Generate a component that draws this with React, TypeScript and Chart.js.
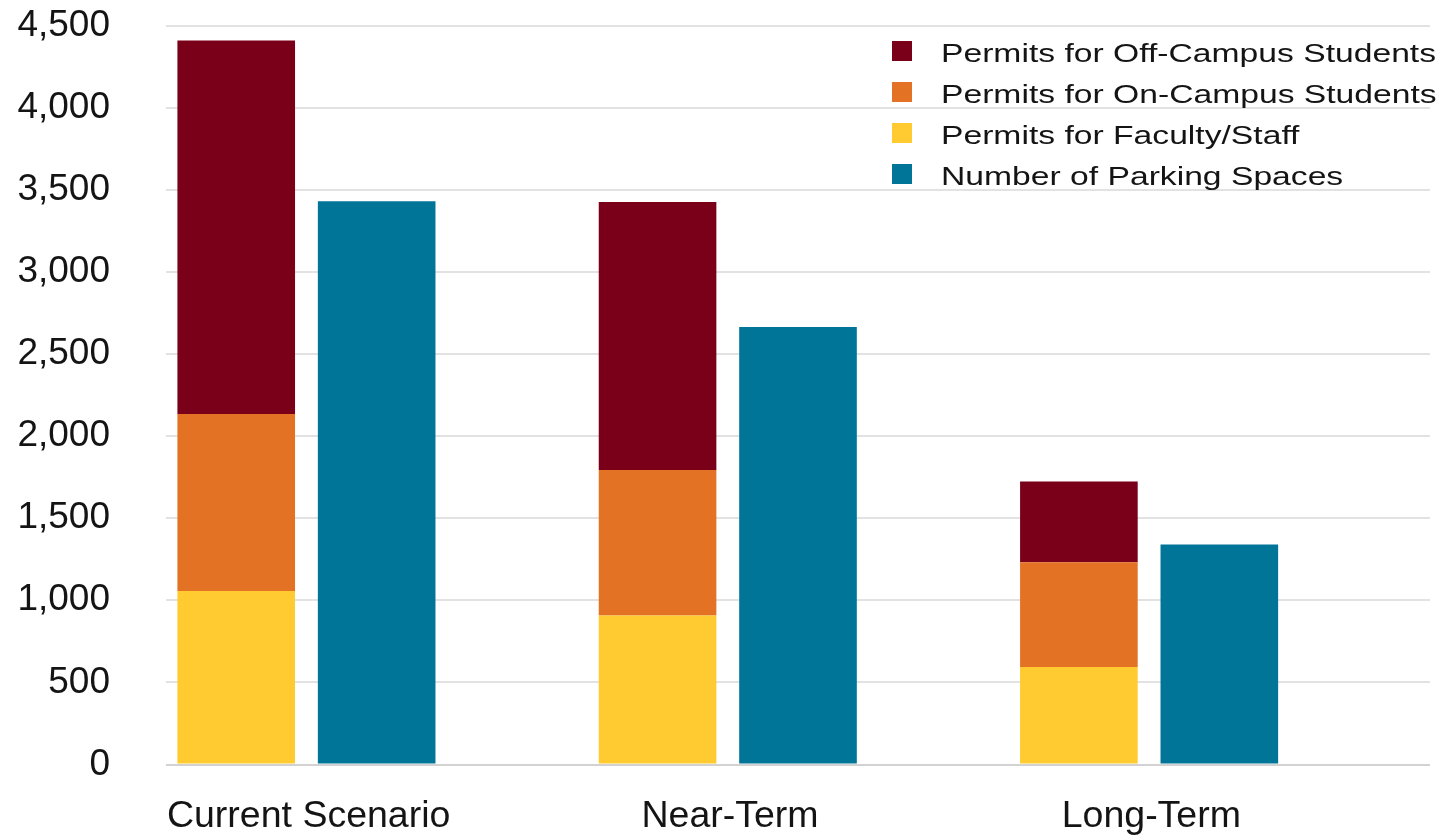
import React, { useEffect, useRef } from "react";
import { Chart, registerables } from "chart.js";

Chart.register(...registerables);

// Scenario categories along the x axis
const scenarios = ["Current Scenario", "Near-Term", "Long-Term"];

// Parking permits issued, stacked per scenario
const facultyStaffPermits = [1056, 908, 594];
const onCampusPermits = [1078, 885, 638];
const offCampusPermits = [2274, 1632, 492];

// Parking supply per scenario
const parkingSpaces = [3430, 2664, 1340];

// Empty third slot that keeps the pair of bars to the left of each band
const spacerSlot = [0, 0, 0];

const yTicks = [0, 500, 1000, 1500, 2000, 2500, 3000, 3500, 4000, 4500];

const FONT = '"Liberation Sans", Arial, Helvetica, sans-serif';
const TEXT_COLOR = "#141414";

const COLORS = {
  offCampus: "#7A0019",
  onCampus: "#E37225",
  faculty: "#FFCB31",
  parking: "#007598",
};

// Legend drawn inside the plot, top-right, in this dataset order
const legendOrder = [2, 1, 0, 3];

const insideLegend = {
  id: "insideLegend",
  afterDatasetsDraw(chart: any) {
    const { ctx } = chart;
    const x0 = 892;
    const y0 = 51;
    const rowGap = 41;
    const box = 20;
    ctx.save();
    legendOrder.forEach((dsIndex, i) => {
      const ds = chart.data.datasets[dsIndex];
      const cy = y0 + i * rowGap;
      ctx.fillStyle = ds.backgroundColor;
      ctx.fillRect(x0, cy - box / 2, box, box);
      ctx.save();
      ctx.translate(x0 + 49, cy + 10.5);
      ctx.scale(1.27, 1);
      ctx.font = `26.5px ${FONT}`;
      ctx.fillStyle = TEXT_COLOR;
      ctx.textAlign = "left";
      ctx.textBaseline = "alphabetic";
      ctx.fillText(ds.label, 0, 0);
      ctx.restore();
    });
    ctx.restore();
  },
};

export default function App() {
  const canvasRef = useRef<HTMLCanvasElement | null>(null);

  useEffect(() => {
    const canvas = canvasRef.current;
    if (!canvas) return;

    const barOpts = {
      categoryPercentage: 1,
      barPercentage: 0.8375,
      borderWidth: 0,
    };

    const chart = new Chart(canvas, {
      type: "bar",
      data: {
        labels: scenarios,
        datasets: [
          {
            label: "Permits for Faculty/Staff",
            data: facultyStaffPermits,
            backgroundColor: COLORS.faculty,
            stack: "permits",
            ...barOpts,
          },
          {
            label: "Permits for On-Campus Students",
            data: onCampusPermits,
            backgroundColor: COLORS.onCampus,
            stack: "permits",
            ...barOpts,
          },
          {
            label: "Permits for Off-Campus Students",
            data: offCampusPermits,
            backgroundColor: COLORS.offCampus,
            stack: "permits",
            ...barOpts,
          },
          {
            label: "Number of Parking Spaces",
            data: parkingSpaces,
            backgroundColor: COLORS.parking,
            stack: "spaces",
            ...barOpts,
          },
          {
            label: "spacer",
            data: spacerSlot,
            backgroundColor: "rgba(0,0,0,0)",
            stack: "spacer",
            ...barOpts,
          },
        ],
      },
      options: {
        responsive: false,
        animation: false,
        events: [],
        layout: {
          padding: { top: 25.5, right: 10, left: 0, bottom: 0 },
        },
        plugins: {
          legend: { display: false },
          tooltip: { enabled: false },
        },
        scales: {
          x: {
            stacked: true,
            offset: true,
            grid: { display: false, drawTicks: false },
            border: { display: false },
            ticks: {
              font: { family: FONT, size: 37.5 },
              color: TEXT_COLOR,
              padding: 30,
              labelOffset: -68,
              maxRotation: 0,
              autoSkip: false,
            },
            afterFit(scale: any) {
              scale.height = 72.5;
            },
          },
          y: {
            stacked: true,
            min: 0,
            max: 4500,
            afterBuildTicks(scale: any) {
              scale.ticks = yTicks.map((v) => ({ value: v }));
            },
            grid: {
              color: (c: any) => (c.tick && c.tick.value === 0 ? "#d2d2d2" : "#e2e2e2"),
              lineWidth: 2,
              drawTicks: false,
            },
            border: { display: false },
            ticks: {
              font: { family: FONT, size: 37 },
              color: TEXT_COLOR,
              padding: 56,
              callback: (v: any) => Number(v).toLocaleString("en-US"),
            },
            afterFit(scale: any) {
              scale.width = 166;
              // the wide label gap should not push the plot area down
              scale.paddingTop = 22;
              scale.paddingBottom = 22;
            },
          },
        },
      },
      plugins: [insideLegend],
    });

    return () => chart.destroy();
  }, []);

  return (
    <div style={{ position: "fixed", left: 0, top: 0, width: 1440, height: 837, background: "#ffffff" }}>
      <canvas ref={canvasRef} width={1440} height={837} style={{ display: "block", width: 1440, height: 837 }} />
    </div>
  );
}
